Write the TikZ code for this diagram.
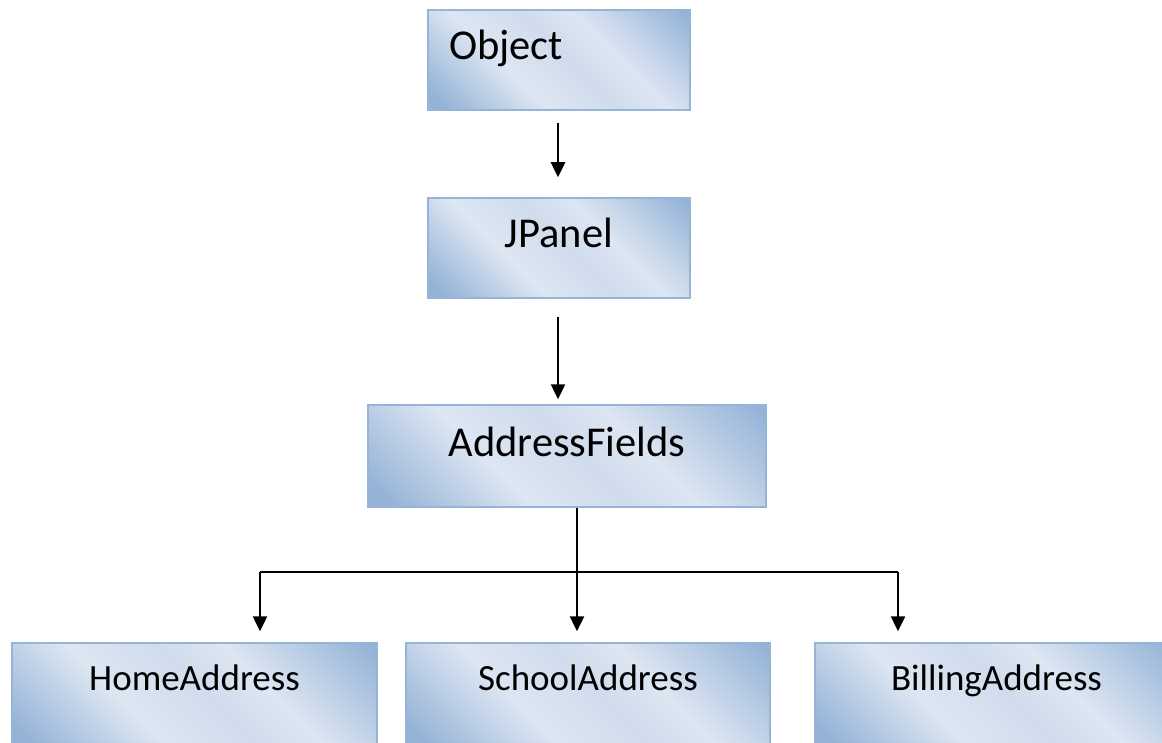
\documentclass[tikz,border=0pt]{standalone}
\usepackage{fontspec}
\setmainfont{Carlito}
\usetikzlibrary{arrows.meta}

\definecolor{bdark}{RGB}{149,179,215}
\definecolor{blight}{RGB}{221,230,242}
\definecolor{bmid}{RGB}{208,220,237}
\definecolor{bedge}{RGB}{150,180,216}

% diagonal light/dark band fill of the class boxes
\pgfdeclarehorizontalshading{boxshade}{100bp}{color(0bp)=(bdark); color(18bp)=(bdark); color(38bp)=(blight); color(52bp)=(bmid); color(62bp)=(blight); color(84bp)=(bdark); color(100bp)=(bdark)}

\begin{document}
\begin{tikzpicture}[x=1pt,y=-1pt,
  cls/.style={rectangle, draw=bedge, line width=1.5pt, shading=boxshade, shading angle=45,
              inner sep=0pt, font=\fontsize{42.5}{50}\selectfont,
              text height=30pt, text depth=30pt},
  leaf/.style={cls, minimum height=104pt, font=\fontsize{37}{44}\selectfont,
               text height=26pt, text depth=36pt},
  wire/.style={line width=2.5pt},
  conn/.style={wire, -{Triangle[length=15pt,width=14pt]}}]

\useasboundingbox (0,0) rectangle (1162,743);
\clip (0,0) rectangle (1162,743);

% class boxes
\node[cls, minimum height=100pt, text width=220pt, inner xsep=21pt, align=left] (obj) at (559,60) {Object};
\node[cls, minimum width=262pt, minimum height=100pt] (jp) at (559,248) {JPanel};
\node[cls, minimum width=398pt, minimum height=102pt] (af) at (567,456) {AddressFields};
\node[leaf, minimum width=365pt] (home) at (194.5,695) {HomeAddress};
\node[leaf, minimum width=364pt] (school) at (588,695) {SchoolAddress};
\node[leaf, minimum width=363pt] (bill) at (996.5,695) {BillingAddress};

% single inheritance arrows
\draw[conn, shorten <=12pt, shorten >=20pt] ([xshift=-1pt]obj.south) -- ([xshift=-1pt]jp.north);
\draw[conn, shorten <=18pt, shorten >=5pt] ([xshift=-1pt]jp.south) -- ([xshift=-1pt]jp.south |- af.north);

% branching to the three subclasses
\coordinate (bm) at (577,572);
\coordinate (bl) at (260,572);
\coordinate (br) at (898,572);
\draw[wire] (af.south -| bm) -- (bm);
\draw[wire] (bl) -- (br);
\draw[conn, shorten >=11pt] (bl) -- (bl |- home.north);
\draw[conn, shorten >=11pt] (bm) -- (bm |- school.north);
\draw[conn, shorten >=11pt] (br) -- (br |- bill.north);
\end{tikzpicture}
\end{document}
